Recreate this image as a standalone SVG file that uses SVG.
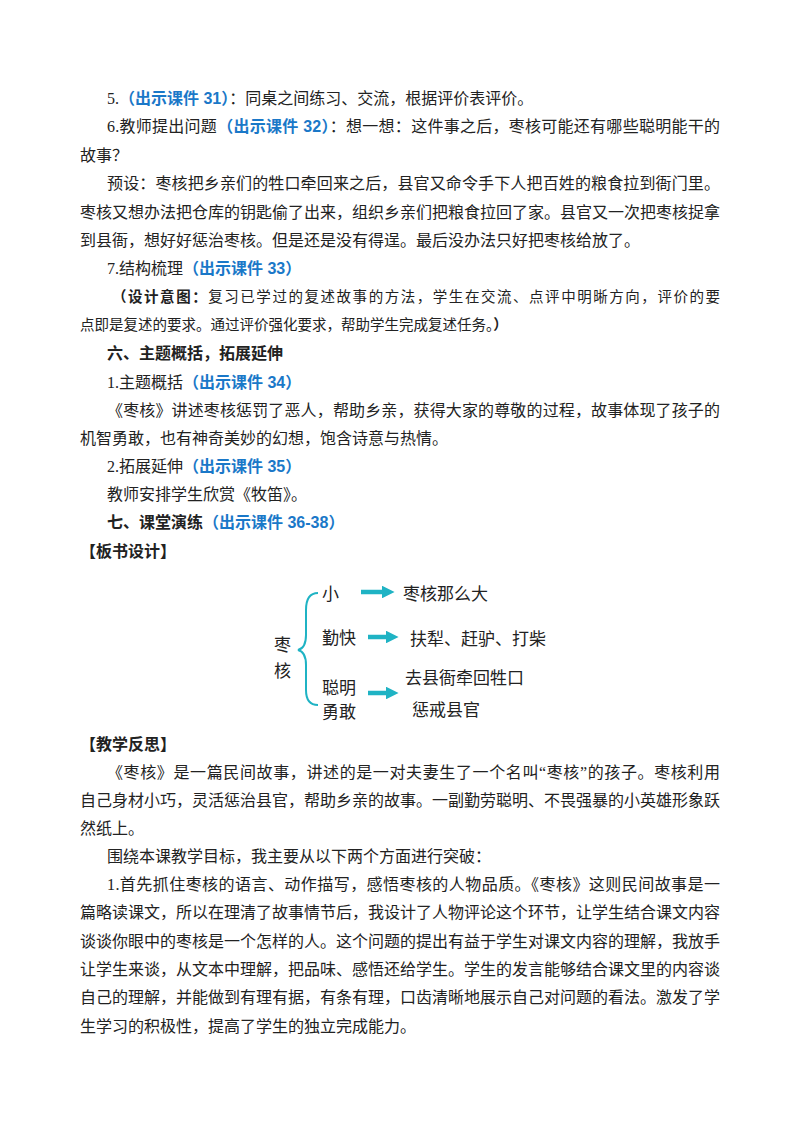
<svg xmlns="http://www.w3.org/2000/svg" width="800" height="1132" viewBox="0 0 800 1132">
<style>
text{font-family:"Liberation Serif","Noto Sans CJK SC",serif;font-size:16px;fill:#222}
.b{fill:#1a78c8;font-weight:bold;font-family:"Liberation Sans","Noto Sans CJK SC",sans-serif}
.h{font-weight:bold;font-family:"Noto Sans CJK SC",sans-serif}
.k{font-size:14.5px}
.bd text{font-family:"Noto Sans CJK SC",sans-serif;font-size:17px}
.ar{fill:none;stroke:#1fb3c4;stroke-width:4.5}
</style>
<rect width="800" height="1132" fill="#fff"/>
<defs><marker id="m" viewBox="0 0 10 10" refX="4" refY="5" markerWidth="2.8" markerHeight="2.8" orient="auto"><path d="M0,0L10,5L0,10z" fill="#1fb3c4"/></marker></defs>
<text x="107" y="104">5.<tspan class="b">（出示课件 31）</tspan>：同桌之间练习、交流，根据评价表评价。</text>
<text x="107" y="132" textLength="613" lengthAdjust="spacing">6.教师提出问题<tspan class="b">（出示课件 32）</tspan>：想一想：这件事之后，枣核可能还有哪些聪明能干的</text>
<text x="80" y="161">故事？</text>
<text x="107" y="189" textLength="613" lengthAdjust="spacing">预设：枣核把乡亲们的牲口牵回来之后，县官又命令手下人把百姓的粮食拉到衙门里。</text>
<text x="80" y="218" textLength="640" lengthAdjust="spacing">枣核又想办法把仓库的钥匙偷了出来，组织乡亲们把粮食拉回了家。县官又一次把枣核捉拿</text>
<text x="80" y="246">到县衙，想好好惩治枣核。但是还是没有得逞。最后没办法只好把枣核给放了。</text>
<text x="107" y="274">7.结构梳理<tspan class="b">（出示课件 33）</tspan></text>
<text class="k" x="112" y="302" textLength="608" lengthAdjust="spacing"><tspan font-weight="bold">（设计意图：</tspan>复习已学过的复述故事的方法，学生在交流、点评中明晰方向，评价的要</text>
<text class="k" x="80" y="330">点即是复述的要求。通过评价强化要求，帮助学生完成复述任务。<tspan font-weight="bold">）</tspan></text>
<text class="h" x="107" y="359">六、主题概括，拓展延伸</text>
<text x="107" y="388">1.主题概括<tspan class="b">（出示课件 34）</tspan></text>
<text x="107" y="416" textLength="613" lengthAdjust="spacing">《枣核》讲述枣核惩罚了恶人，帮助乡亲，获得大家的尊敬的过程，故事体现了孩子的</text>
<text x="80" y="444">机智勇敢，也有神奇美妙的幻想，饱含诗意与热情。</text>
<text x="107" y="472">2.拓展延伸<tspan class="b">（出示课件 35）</tspan></text>
<text x="107" y="500">教师安排学生欣赏《牧笛》。</text>
<text class="h" x="107" y="528">七、课堂演练<tspan class="b">（出示课件 36-38）</tspan></text>
<text class="h" x="80" y="557">【板书设计】</text>
<g id="board" class="bd">
<text x="274" y="651">枣</text><text x="274" y="677">核</text>
<path d="M318,593 Q306,593 306,610 L306,635 Q306,648 298,650 Q306,652 306,665 L306,690 Q306,705 318,705" fill="none" stroke="#1fb3c4" stroke-width="2"/>
<text x="322" y="600">小</text><text x="403" y="600">枣核那么大</text>
<text x="322" y="644">勤快</text><text x="410" y="645">扶犁、赶驴、打柴</text>
<text x="322" y="694">聪明</text><text x="322" y="718">勇敢</text>
<text x="405" y="684">去县衙牵回牲口</text><text x="412" y="716">惩戒县官</text>
</g>
<g id="connectors">
<path class="ar" d="M361,592H387" marker-end="url(#m)"/>
<path class="ar" d="M368,637H391" marker-end="url(#m)"/>
<path class="ar" d="M368,693H391" marker-end="url(#m)"/>
</g>
<text class="h" x="80" y="750">【教学反思】</text>
<text x="107" y="778" textLength="613" lengthAdjust="spacing">《枣核》是一篇民间故事，讲述的是一对夫妻生了一个名叫“枣核”的孩子。枣核利用</text>
<text x="80" y="806" textLength="640" lengthAdjust="spacing">自己身材小巧，灵活惩治县官，帮助乡亲的故事。一副勤劳聪明、不畏强暴的小英雄形象跃</text>
<text x="80" y="834">然纸上。</text>
<text x="107" y="862">围绕本课教学目标，我主要从以下两个方面进行突破：</text>
<text x="107" y="890" textLength="613" lengthAdjust="spacing">1.首先抓住枣核的语言、动作描写，感悟枣核的人物品质。《枣核》这则民间故事是一</text>
<text x="80" y="918" textLength="640" lengthAdjust="spacing">篇略读课文，所以在理清了故事情节后，我设计了人物评论这个环节，让学生结合课文内容</text>
<text x="80" y="947" textLength="640" lengthAdjust="spacing">谈谈你眼中的枣核是一个怎样的人。这个问题的提出有益于学生对课文内容的理解，我放手</text>
<text x="80" y="975" textLength="640" lengthAdjust="spacing">让学生来谈，从文本中理解，把品味、感悟还给学生。学生的发言能够结合课文里的内容谈</text>
<text x="80" y="1003" textLength="640" lengthAdjust="spacing">自己的理解，并能做到有理有据，有条有理，口齿清晰地展示自己对问题的看法。激发了学</text>
<text x="80" y="1032">生学习的积极性，提高了学生的独立完成能力。</text>
</svg>
